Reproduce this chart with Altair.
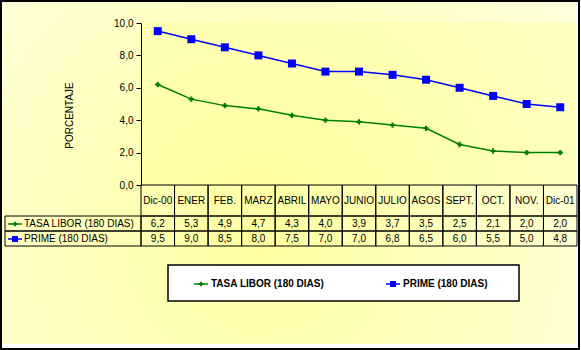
import altair as alt
import pandas as pd

# ---- data ----
months = ["Dic-00", "ENER", "FEB.", "MARZ", "ABRIL", "MAYO", "JUNIO",
          "JULIO", "AGOS", "SEPT.", "OCT.", "NOV.", "Dic-01"]
libor = [6.2, 5.3, 4.9, 4.7, 4.3, 4.0, 3.9, 3.7, 3.5, 2.5, 2.1, 2.0, 2.0]
prime = [9.5, 9.0, 8.5, 8.0, 7.5, 7.0, 7.0, 6.8, 6.5, 6.0, 5.5, 5.0, 4.8]
series_names = ["TASA LIBOR (180 DIAS)", "PRIME (180 DIAS)"]
series_colors = ["#008000", "#0000FF"]
y_ticks = [0, 2, 4, 6, 8, 10]
y_title = "PORCENTAJE"


def fmt(v):
    return f"{v:.1f}".replace(".", ",")


df = pd.DataFrame({
    "mes": months * 2,
    "serie": [series_names[0]] * len(months) + [series_names[1]] * len(months),
    "valor": libor + prime,
})
df["etiqueta"] = df["valor"].map(fmt)
hdr = pd.DataFrame({"mes": months})
one = pd.DataFrame({"k": [0]})

FONT = "Liberation Sans"
xscale = alt.Scale(type="band", domain=months, paddingInner=0, paddingOuter=0)
X = alt.X("mes:N", scale=xscale, axis=None, bandPosition=0.5)
Xb = alt.X("mes:N", scale=xscale, axis=None)

# ---- backgrounds ----
bg = alt.Chart(one).mark_rect(fill={
    "gradient": "radial", "x1": 0.45, "y1": 0.62, "r1": 0.0,
    "x2": 0.45, "y2": 0.62, "r2": 0.75,
    "stops": [{"offset": 0, "color": "#FFFFA0"},
              {"offset": 1, "color": "#FFFFE2"}]}).encode(
    x=alt.value(-140), x2=alt.value(435), y=alt.value(-22), y2=alt.value(321))

plot_bg = alt.Chart(one).mark_rect(fill="#FFFF90", opacity=0.3).encode(
    x=alt.value(0), x2=alt.value(436), y=alt.value(-1), y2=alt.value(162))

frame = alt.Chart(one).mark_rect(fillOpacity=0, stroke="black", strokeWidth=2).encode(
    x=alt.value(-140), x2=alt.value(438), y=alt.value(-22), y2=alt.value(326))

# ---- lines ----
yaxis = alt.Axis(values=y_ticks, labelExpr="replace(format(datum.value, '.1f'), '.', ',')",
                 grid=False, domainColor="black", tickColor="black", tickSize=5,
                 labelColor="black", labelFont=FONT, labelFontSize=10, labelPadding=3,
                 title=y_title, titleFont=FONT, titleFontSize=10, titleFontWeight="normal",
                 titleColor="black", titleX=-72, titleY=92, titleAngle=-90,
                 titleAlign="center", titleBaseline="middle", zindex=2)
Y = alt.Y("valor:Q", scale=alt.Scale(domain=[0, 10], nice=False), axis=yaxis)
col = alt.Color("serie:N", scale=alt.Scale(domain=series_names, range=series_colors), legend=None)

lines = alt.Chart(df).mark_line(strokeWidth=1.5).encode(x=X, y=Y, color=col, detail="serie:N")
pts_l = alt.Chart(df).transform_filter(alt.datum.serie == series_names[0]).mark_point(
    shape="cross", filled=True, size=28, color=series_colors[0], opacity=1).encode(x=X, y=Y)
pts_p = alt.Chart(df).transform_filter(alt.datum.serie == series_names[1]).mark_point(
    shape="square", filled=True, size=64, color=series_colors[1], opacity=1).encode(x=X, y=Y)

# ---- data table ----
cell = dict(fillOpacity=0, stroke="black", strokeWidth=1)
hdr_cells = alt.Chart(hdr).mark_rect(**cell).encode(x=Xb, y=alt.value(162), y2=alt.value(193))
r1_cells = alt.Chart(hdr).mark_rect(**cell).encode(x=Xb, y=alt.value(193), y2=alt.value(208))
r2_cells = alt.Chart(hdr).mark_rect(**cell).encode(x=Xb, y=alt.value(208), y2=alt.value(223))
left1 = alt.Chart(one).mark_rect(**cell).encode(x=alt.value(-136), x2=alt.value(0),
                                                y=alt.value(193), y2=alt.value(208))
left2 = alt.Chart(one).mark_rect(**cell).encode(x=alt.value(-136), x2=alt.value(0),
                                                y=alt.value(208), y2=alt.value(223))

txt = dict(font=FONT, fontSize=10, color="black", baseline="middle")
hdr_txt = alt.Chart(hdr).mark_text(**txt).encode(x=X, y=alt.value(178), text="mes:N")
v1_txt = alt.Chart(df).transform_filter(alt.datum.serie == series_names[0]).mark_text(**txt).encode(
    x=X, y=alt.value(201), text="etiqueta:N")
v2_txt = alt.Chart(df).transform_filter(alt.datum.serie == series_names[1]).mark_text(**txt).encode(
    x=X, y=alt.value(216), text="etiqueta:N")


def key(x0, yv, i, bold, dx):
    seg = alt.Chart(one).mark_rule(color=series_colors[i], strokeWidth=1.5).encode(
        x=alt.value(x0), x2=alt.value(x0 + 14), y=alt.value(yv))
    shp = "cross" if i == 0 else "square"
    sz = 22 if i == 0 else 36
    pt = alt.Chart(one).mark_point(shape=shp, filled=True, size=sz, color=series_colors[i],
                                   opacity=1).encode(x=alt.value(x0 + 7), y=alt.value(yv))
    t = alt.Chart(one).mark_text(font=FONT, fontSize=10, color="black", baseline="middle",
                                 align="left", fontWeight="bold" if bold else "normal").encode(
        x=alt.value(x0 + dx), y=alt.value(yv), text=alt.value(series_names[i]))
    return [seg, pt, t]


row_keys = key(-133, 201, 0, False, 16) + key(-133, 216, 1, False, 16)

# ---- legend box ----
leg_box = alt.Chart(one).mark_rect(fill="white", stroke="black", strokeWidth=1.5).encode(
    x=alt.value(27), x2=alt.value(378), y=alt.value(242), y2=alt.value(278))
leg_items = key(53, 261, 0, True, 17) + key(245, 261, 1, True, 17)

chart = alt.layer(
    bg, plot_bg, hdr_cells, r1_cells, r2_cells, left1, left2,
    lines, pts_l, pts_p, hdr_txt, v1_txt, v2_txt, *row_keys,
    leg_box, *leg_items, frame
).properties(
    width=436, height=162,
    autosize=alt.AutoSizeParams(type="none"),
    padding={"left": 141, "top": 23, "right": 4, "bottom": 165},
    background="white",
).configure_view(stroke=None)

chart.save("out.html", embed_options={"renderer": "svg", "actions": False})
